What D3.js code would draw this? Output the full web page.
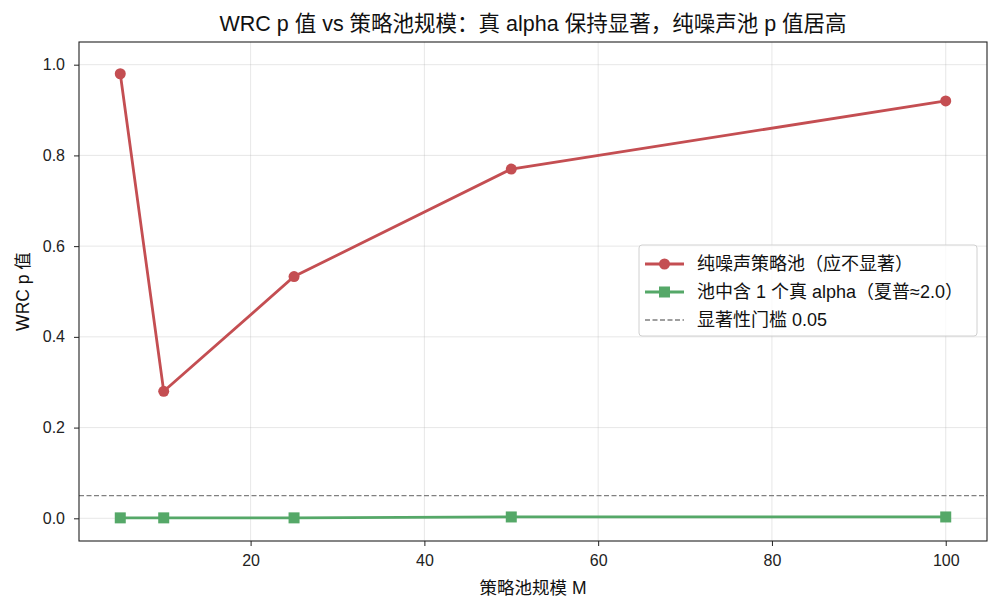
<!DOCTYPE html>
<html>
<head>
<meta charset="utf-8">
<script src="https://cdn.jsdelivr.net/npm/d3@7"></script>
<style>
	body { margin: 0; background: #fff; }
	svg { display: block; font-family: "Liberation Sans", "Noto Sans CJK SC", sans-serif; }
</style>
</head>
<body>
<script>
// data
var poolSizes = [5, 10, 25, 50, 100]
var noisePvals = [0.98, 0.28, 0.533, 0.77, 0.92]
var alphaPvals = [0.001, 0.001, 0.001, 0.003, 0.003]
var threshold = 0.05
var xTicks = [20, 40, 60, 80, 100]
var yTicks = [0.0, 0.2, 0.4, 0.6, 0.8, 1.0]
var legendLabels = ["纯噪声策略池（应不显著）", "池中含 1 个真 alpha（夏普≈2.0）", "显著性门槛 0.05"]

var W = 998, H = 611
var m = { left: 79, right: 11, top: 42, bottom: 70 }
var red = "#c44e52", green = "#55a868"
var font = "'Liberation Sans', 'Noto Sans CJK SC', sans-serif"

var svg = d3.select("body").append("svg").attr("width", W).attr("height", H)

var x = d3.scaleLinear().domain([0.25, 104.75]).range([m.left, W - m.right])
var y = d3.scaleLinear().domain([-0.05, 1.05]).range([H - m.bottom, m.top])

// grid
svg.append("g").selectAll("line").data(xTicks).enter().append("line")
	.attr("x1", d => x(d)).attr("x2", d => x(d))
	.attr("y1", m.top).attr("y2", H - m.bottom)
	.attr("stroke", "#b0b0b0").attr("stroke-opacity", 0.3).attr("stroke-width", 1)
svg.append("g").selectAll("line").data(yTicks).enter().append("line")
	.attr("y1", d => y(d)).attr("y2", d => y(d))
	.attr("x1", m.left).attr("x2", W - m.right)
	.attr("stroke", "#b0b0b0").attr("stroke-opacity", 0.3).attr("stroke-width", 1)

// axes
var xAxis = svg.append("g").attr("transform", "translate(0," + (H - m.bottom) + ")")
	.call(d3.axisBottom(x).tickValues(xTicks).tickSize(5).tickPadding(9).tickFormat(d3.format("d")))
var yAxis = svg.append("g").attr("transform", "translate(" + m.left + ",0)")
	.call(d3.axisLeft(y).tickValues(yTicks).tickSize(5).tickPadding(9).tickFormat(d3.format(".1f")))
;[xAxis, yAxis].forEach(function (a) {
	a.select(".domain").remove()
	a.selectAll("text").attr("font-size", 16).attr("fill", "#222").style("font-family", font)
	a.selectAll("line").attr("stroke", "#222").attr("stroke-width", 1)
})

// threshold
svg.append("line")
	.attr("x1", m.left).attr("x2", W - m.right)
	.attr("y1", y(threshold)).attr("y2", y(threshold))
	.attr("stroke", "#808080").attr("stroke-width", 1.4).attr("stroke-dasharray", "5,2.5")

var line = d3.line().x(d => x(d[0])).y(d => y(d[1]))
var noise = poolSizes.map((d, i) => [d, noisePvals[i]])
var alpha = poolSizes.map((d, i) => [d, alphaPvals[i]])

svg.append("path").datum(noise).attr("d", line).attr("fill", "none").attr("stroke", red).attr("stroke-width", 2.8)
svg.append("g").selectAll("circle").data(noise).enter().append("circle")
	.attr("cx", d => x(d[0])).attr("cy", d => y(d[1])).attr("r", 5.5).attr("fill", red)

svg.append("path").datum(alpha).attr("d", line).attr("fill", "none").attr("stroke", green).attr("stroke-width", 2.8)
svg.append("g").selectAll("rect").data(alpha).enter().append("rect")
	.attr("x", d => x(d[0]) - 5.5).attr("y", d => y(d[1]) - 5.5).attr("width", 11).attr("height", 11).attr("fill", green)

// frame
svg.append("rect").attr("x", m.left).attr("y", m.top)
	.attr("width", W - m.left - m.right).attr("height", H - m.top - m.bottom)
	.attr("fill", "none").attr("stroke", "#222").attr("stroke-width", 1.1)

// titles
svg.append("text").attr("x", (m.left + W - m.right) / 2).attr("y", 31)
	.attr("text-anchor", "middle").attr("font-size", 21.5).attr("fill", "#111")
	.text("WRC p 值 vs 策略池规模：真 alpha 保持显著，纯噪声池 p 值居高")
svg.append("text").attr("x", (m.left + W - m.right) / 2).attr("y", 594)
	.attr("text-anchor", "middle").attr("font-size", 17.5).attr("fill", "#111")
	.text("策略池规模 M")
svg.append("text").attr("transform", "translate(29," + ((m.top + H - m.bottom) / 2) + ") rotate(-90)")
	.attr("text-anchor", "middle").attr("font-size", 17.5).attr("fill", "#111")
	.text("WRC p 值")

// legend
var lg = svg.append("g").attr("transform", "translate(639,245)")
lg.append("rect").attr("width", 338).attr("height", 91).attr("rx", 3)
	.attr("fill", "#fff").attr("fill-opacity", 0.8).attr("stroke", "#d0d0d0").attr("stroke-width", 1)
legendLabels.forEach(function (t, i) {
	var ry = 19 + i * 28
	var g = lg.append("g").attr("transform", "translate(0," + ry + ")")
	if (i === 0) {
		g.append("line").attr("x1", 6).attr("x2", 45).attr("stroke", red).attr("stroke-width", 2.8)
		g.append("circle").attr("cx", 25.5).attr("r", 5.5).attr("fill", red)
	} else if (i === 1) {
		g.append("line").attr("x1", 6).attr("x2", 45).attr("stroke", green).attr("stroke-width", 2.8)
		g.append("rect").attr("x", 20).attr("y", -5.5).attr("width", 11).attr("height", 11).attr("fill", green)
	} else {
		g.append("line").attr("x1", 6).attr("x2", 45).attr("stroke", "#808080").attr("stroke-width", 1.4).attr("stroke-dasharray", "5,2.5")
	}
	g.append("text").attr("x", 58).attr("y", 6).attr("font-size", 18).attr("fill", "#111").text(t)
})
</script>
</body>
</html>
